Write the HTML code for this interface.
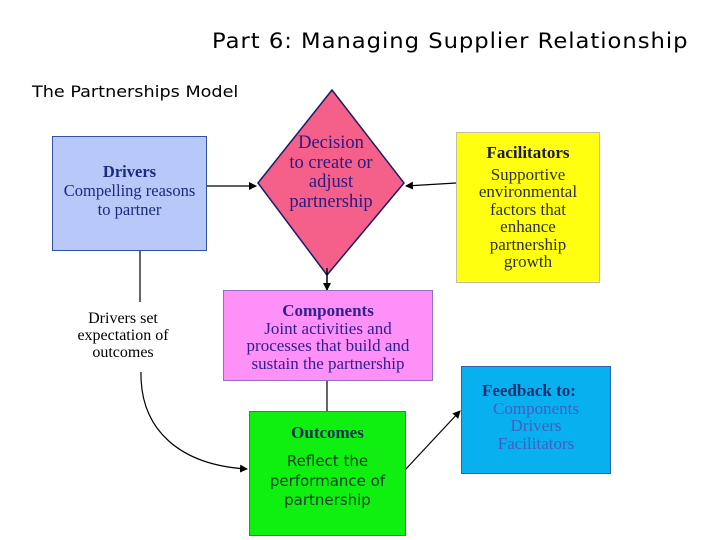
<!DOCTYPE html>
<html><head><meta charset="utf-8"><style>
body{margin:0;background:#fff;}
.c{position:relative;width:720px;height:540px;overflow:hidden;font-family:"Liberation Serif",serif;}
.t{position:absolute;white-space:nowrap;}
.b{position:absolute;box-sizing:border-box;text-align:center;white-space:nowrap;}
</style></head><body><div class="c">
<div class="t" style="left:212px;top:29px;font-family:'DejaVu Sans',sans-serif;font-size:21px;letter-spacing:0.9px;transform:scaleX(1.08);transform-origin:left;">Part 6: Managing Supplier Relationship</div>
<div class="t" style="left:32px;top:82px;font-family:'DejaVu Sans',sans-serif;font-size:16px;transform:scaleX(1.1);transform-origin:left;">The Partnerships Model</div>

<svg width="720" height="540" style="position:absolute;left:0;top:0">
<defs><marker id="a" markerWidth="8" markerHeight="8" refX="7" refY="4" orient="auto" markerUnits="userSpaceOnUse"><path d="M0,0L8,4L0,8z" fill="#000"/></marker></defs>
<polygon points="332,90 404,183 327,275 258,183" fill="#f5608a" stroke="#1a1a6a" stroke-width="1.5"/>
<line x1="207" y1="186" x2="256" y2="186" stroke="#000" stroke-width="1.2" marker-end="url(#a)"/>
<line x1="456" y1="183" x2="406" y2="186" stroke="#000" stroke-width="1.2" marker-end="url(#a)"/>
<line x1="327" y1="268" x2="327" y2="290" stroke="#000" stroke-width="1.5" marker-end="url(#a)"/>
<line x1="140" y1="251" x2="140" y2="302" stroke="#000" stroke-width="1.2"/>
<line x1="327" y1="380" x2="327" y2="411" stroke="#000" stroke-width="1.2"/>
<path d="M141,372 C140,430 180,465 247,469" fill="none" stroke="#000" stroke-width="1.2" marker-end="url(#a)"/>
<line x1="405" y1="470" x2="460" y2="411" stroke="#000" stroke-width="1.2" marker-end="url(#a)"/>
</svg>

<div class="b" style="left:52px;top:136px;width:155px;height:115px;background:#b8c8f8;border:1.5px solid #3050a0;color:#1a2a80;font-size:16.5px;line-height:19px;padding-top:25px;"><b>Drivers</b><br>Compelling reasons<br>to partner</div>
<div class="t" style="left:256px;top:134px;width:150px;text-align:center;color:#2a1a80;font-size:18.5px;line-height:19.5px;">Decision<br>to create or<br>adjust<br>partnership</div>
<div class="b" style="left:456px;top:132px;width:144px;height:151px;background:#ffff10;border:1.5px solid #c0c0a0;color:#1a1a40;font-size:17px;line-height:17.5px;padding-top:11px;"><b>Facilitators</b><div style="margin-top:4px;color:#303030">Supportive<br>environmental<br>factors that<br>enhance<br>partnership<br>growth</div></div>
<div class="b" style="left:223px;top:290px;width:210px;height:91px;background:#ff90f8;border:1.5px solid #9070c0;color:#302090;font-size:17px;line-height:17.5px;padding-top:11px;"><b>Components</b><br>Joint activities and<br>processes that build and<br>sustain the partnership</div>
<div class="t" style="left:60px;top:310px;width:126px;text-align:center;font-size:16px;line-height:17px;">Drivers set<br>expectation of<br>outcomes</div>
<div class="b" style="left:249px;top:411px;width:157px;height:125px;background:#10f010;border:1.5px solid #10a030;color:#103050;font-size:17px;padding-top:11px;"><b>Outcomes</b><div style="margin-top:9px;font-family:'DejaVu Sans',sans-serif;font-size:15px;line-height:19.5px;color:#104020">Reflect the<br>performance of<br>partnership</div></div>
<div class="b" style="left:461px;top:366px;width:150px;height:108px;background:#08b0f0;border:1.5px solid #3060b0;color:#2040a0;font-size:17px;line-height:17.5px;padding-top:15px;"><div style="text-align:left;padding-left:20px"><b style="color:#203070">Feedback to:</b></div><div style="color:#4060c0">Components<br>Drivers<br>Facilitators</div></div>
</div></body></html>
